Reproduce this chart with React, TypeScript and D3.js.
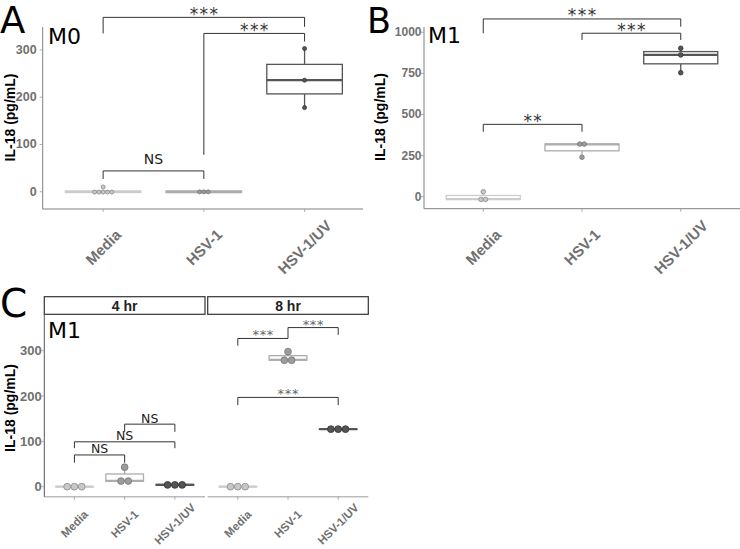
import * as React from "react";
import * as d3 from "d3";

const groups = ["Media", "HSV-1", "HSV-1/UV"];

// A: M0 macrophages
const m0Media = [-3, -2, -1, 0, 2, 10];
const m0Hsv = [-4, 0, 3];
const m0Uv = [303, 236, 178];
const m0Ticks = [0, 100, 200, 300];

// B: M1 macrophages
const m1Media = [30, -15, -18];
const m1Hsv = [322, 318, 240];
const m1Uv = [903, 862, 754];
const m1Ticks = [0, 250, 500, 750, 1000];

// C: M1, 4 hr / 8 hr
const facets = ["4 hr", "8 hr"];
const c4Media = [-1, 0, 1];
const c4Hsv = [43, 13, 12];
const c4Uv = [2, 4, 6];
const c8Media = [-1, 0, 1];
const c8Hsv = [298, 280, 278];
const c8Uv = [126, 127, 128];
const cTicks = [0, 100, 200, 300];

// brackets: from, to, y of bar, left tip end, right tip end, label (value units)
const m0Sig: [string, string, number, number, number, string][] = [
  ["Media", "HSV-1/UV", 369, 335, 349, "***"],
  ["HSV-1", "HSV-1/UV", 335, 78, 318, "***"],
  ["Media", "HSV-1", 44, 27, 27, "NS"],
];
const m1Sig: [string, string, number, number, number, string][] = [
  ["Media", "HSV-1/UV", 1081, 994, 1034, "***"],
  ["HSV-1", "HSV-1/UV", 994, 953, 953, "***"],
  ["Media", "HSV-1", 440, 395, 395, "**"],
];
const c4Sig: [string, string, number, number, number, string][] = [
  ["Media", "HSV-1", 70, 53, 53, "NS"],
  ["Media", "HSV-1/UV", 99, 85, 85, "NS"],
  ["HSV-1", "HSV-1/UV", 138, 121, 121, "NS"],
];
const c8Sig: [string, string, number, number, number, string][] = [
  ["Media", "HSV-1", 327, 311, 327, "***"],
  ["HSV-1", "HSV-1/UV", 351, 327, 335, "***"],
  ["Media", "HSV-1/UV", 197, 180, 180, "***"],
];

const dotFill: Record<string, string> = { Media: "#c8c8c8", "HSV-1": "#9c9c9c", "HSV-1/UV": "#555555" };
const dotLine: Record<string, string> = { Media: "#8a8a8a", "HSV-1": "#777777", "HSV-1/UV": "#333333" };
const boxLine: Record<string, string> = { Media: "#cccccc", "HSV-1": "#adadad", "HSV-1/UV": "#555555" };

const axisFont = "'Liberation Sans', Arial, sans-serif";
const labelFont = "'DejaVu Sans', sans-serif";

function dots(vals: number[], pitch: number, y: d3.ScaleLinear<number, number>) {
  const sorted = [...vals].sort((a, b) => a - b);
  const bins: number[][] = [];
  sorted.forEach((v) => {
    const last = bins[bins.length - 1];
    if (last && Math.abs(y(v) - y(last[0])) < pitch) last.push(v);
    else bins.push([v]);
  });
  return bins.flatMap((b) => {
    const cy = y(d3.mean(b) as number);
    return b.map((_, i) => ({ dx: (i - (b.length - 1) / 2) * pitch, cy }));
  });
}

function Boxes({ x, y, data, r, pitch }) {
  const bw = x.step() * 0.75;
  return (
    <g>
      {groups.map((g, gi) => {
        const vals = [...data[gi]].sort((a, b) => a - b);
        const q1 = d3.quantile(vals, 0.25);
        const med = d3.quantile(vals, 0.5);
        const q3 = d3.quantile(vals, 0.75);
        const iqr = q3 - q1;
        const lo = d3.min(vals.filter((v) => v >= q1 - 1.5 * iqr));
        const hi = d3.max(vals.filter((v) => v <= q3 + 1.5 * iqr));
        const cx = x(g);
        return (
          <g key={g}>
            <line x1={cx} x2={cx} y1={y(q3)} y2={y(hi)} stroke={boxLine[g]} strokeWidth={1.3} />
            <line x1={cx} x2={cx} y1={y(q1)} y2={y(lo)} stroke={boxLine[g]} strokeWidth={1.3} />
            <rect x={cx - bw / 2} y={y(q3)} width={bw} height={y(q1) - y(q3)} fill="#fff" stroke={boxLine[g]} strokeWidth={1.3} />
            <line x1={cx - bw / 2} x2={cx + bw / 2} y1={y(med)} y2={y(med)} stroke={boxLine[g]} strokeWidth={2.2} />
            {dots(data[gi], pitch, y).map((d, i) => (
              <circle key={i} cx={cx + d.dx} cy={d.cy} r={r} fill={dotFill[g]} stroke={dotLine[g]} strokeWidth={0.8} />
            ))}
          </g>
        );
      })}
    </g>
  );
}

function Brackets({ x, y, sig, starSize, starSpace, starColor, nsSize, starOff, nsOff }) {
  return (
    <g>
      {sig.map(([a, b, yy, tl, tr, lab], i) => {
        const x1 = x(a);
        const x2 = x(b);
        const isStar = lab.startsWith("*");
        return (
          <g key={i}>
            <path d={`M${x1},${y(tl)}V${y(yy)}H${x2}V${y(tr)}`} fill="none" stroke="#333" strokeWidth={1} />
            <text
              x={(x1 + x2) / 2 + (isStar ? starSpace / 2 : 0)}
              y={y(yy) + (isStar ? starOff : nsOff)}
              textAnchor="middle"
              fontFamily={labelFont}
              fontSize={isStar ? starSize : nsSize}
              letterSpacing={isStar ? starSpace : 0}
              fill={isStar ? starColor : "#222"}
            >
              {lab}
            </text>
          </g>
        );
      })}
    </g>
  );
}

function XLabels({ x, ly, size }) {
  return (
    <g>
      {groups.map((g) => (
        <text
          key={g}
          transform={`translate(${x(g)},${ly}) rotate(-45)`}
          textAnchor="middle"
          dominantBaseline="central"
          fontFamily={axisFont}
          fontWeight="bold"
          fontSize={size}
          fill="#707070"
        >
          {g}
        </text>
      ))}
    </g>
  );
}

function XAxis({ x, y0, from, to, color, width }) {
  return (
    <g>
      <line x1={from} x2={to} y1={y0} y2={y0} stroke={color} strokeWidth={width} />
      {groups.map((g) => (
        <line key={g} x1={x(g)} x2={x(g)} y1={y0} y2={y0 + 3} stroke="#999" strokeWidth={0.8} />
      ))}
    </g>
  );
}

function YAxis({ y, ticks, x0, gap, size, color }) {
  const [top, bottom] = [y.range()[1], y.range()[0]];
  return (
    <g>
      <line x1={x0} x2={x0} y1={top} y2={bottom} stroke={color} strokeWidth={1} />
      {ticks.map((t) => (
        <g key={t}>
          <line x1={x0 - 3} x2={x0} y1={y(t)} y2={y(t)} stroke="#999" strokeWidth={0.8} />
          <text
            x={x0 - gap}
            y={y(t)}
            textAnchor="end"
            dominantBaseline="central"
            fontFamily={axisFont}
            fontWeight="bold"
            fontSize={size}
            fill="#707070"
          >
            {t}
          </text>
        </g>
      ))}
    </g>
  );
}

function YTitle({ cx, cy }) {
  return (
    <text
      transform={`translate(${cx},${cy}) rotate(-90)`}
      textAnchor="middle"
      dominantBaseline="central"
      fontFamily={axisFont}
      fontWeight="bold"
      fontSize={14}
      fill="#000"
    >
      IL-18 (pg/mL)
    </text>
  );
}

export default function App() {
  // panel A
  const xA = d3.scalePoint().domain(groups).range([42.7, 365]).padding(0.6);
  const yA = d3.scaleLinear().domain([-36.6, 348.6]).range([209, 27]);
  // panel B
  const xB = d3.scalePoint().domain(groups).range([424, 740]).padding(0.6);
  const yB = d3.scaleLinear().domain([-73, 1032]).range([208.7, 27]);
  // panel C
  const xC4 = d3.scalePoint().domain(groups).range([44.3, 205]).padding(0.6);
  const xC8 = d3.scalePoint().domain(groups).range([207.7, 368.3]).padding(0.6);
  const yC = d3.scaleLinear().domain([-22.06, 380.3]).range([496.7, 314.3]);
  const stripTop = 296.7;

  return (
    <svg width={740} height={549} style={{ position: "absolute", left: 0, top: 0, background: "#fff" }}>
      {/* A */}
      <YAxis y={yA} ticks={m0Ticks} x0={42.7} gap={6} size={12.5} color="#808080" />
      <XAxis x={xA} y0={209} from={42.7} to={363} color="#808080" width={1} />
      <Boxes x={xA} y={yA} data={[m0Media, m0Hsv, m0Uv]} r={2} pitch={4.3} />
      <Brackets x={xA} y={yA} sig={m0Sig} starSize={17} starSpace={1.4} starColor="#333" nsSize={14} starOff={2.5} nsOff={-7} />
      <XLabels x={xA} ly={247} size={15} />
      <YTitle cx={10} cy={117.5} />
      <text x={0} y={32.5} fontFamily={labelFont} fontSize={37}>A</text>
      <text x={48} y={44} fontFamily={labelFont} fontSize={22}>M0</text>

      {/* B */}
      <YAxis y={yB} ticks={m1Ticks} x0={424} gap={2.5} size={12} color="#808080" />
      <XAxis x={xB} y0={208.7} from={424} to={740} color="#808080" width={1} />
      <Boxes x={xB} y={yB} data={[m1Media, m1Hsv, m1Uv]} r={2.3} pitch={4.5} />
      <Brackets x={xB} y={yB} sig={m1Sig} starSize={17} starSpace={1.4} starColor="#333" nsSize={14} starOff={2.5} nsOff={-7} />
      <XLabels x={xB} ly={247} size={15} />
      <YTitle cx={380} cy={117} />
      <text x={367} y={32.5} fontFamily={labelFont} fontSize={35}>B</text>
      <text x={428} y={43.3} fontFamily={labelFont} fontSize={22}>M1</text>

      {/* C */}
      {facets.map((f, i) => {
        const xs = i === 0 ? xC4 : xC8;
        const [a, b] = xs.range();
        return (
          <g key={f}>
            <rect x={a} y={stripTop} width={b - a} height={yC.range()[1] - stripTop} fill="#fff" stroke="#333" strokeWidth={1.2} />
            <text x={(a + b) / 2} y={stripTop + 14} textAnchor="middle" fontFamily={axisFont} fontWeight="bold" fontSize={14} fill="#222">
              {f}
            </text>
            <XAxis x={xs} y0={496.7} from={a} to={b} color="#bbbbbb" width={1.6} />
            <XLabels x={xs} ly={524} size={11.5} />
          </g>
        );
      })}
      <YAxis y={yC} ticks={cTicks} x0={44.3} gap={2.6} size={13} color="#555" />
      <Boxes x={xC4} y={yC} data={[c4Media, c4Hsv, c4Uv]} r={3.4} pitch={7.3} />
      <Boxes x={xC8} y={yC} data={[c8Media, c8Hsv, c8Uv]} r={3.4} pitch={7.3} />
      <Brackets x={xC4} y={yC} sig={c4Sig} starSize={13} starSpace={0.7} starColor="#666" nsSize={12.5} starOff={1} nsOff={-1.5} />
      <Brackets x={xC8} y={yC} sig={c8Sig} starSize={13} starSpace={0.7} starColor="#666" nsSize={12.5} starOff={1} nsOff={-1.5} />
      <YTitle cx={9.5} cy={408} />
      <text x={0} y={316.5} fontFamily={labelFont} fontSize={39}>C</text>
      <text x={48} y={338.3} fontFamily={labelFont} fontSize={22}>M1</text>
    </svg>
  );
}
